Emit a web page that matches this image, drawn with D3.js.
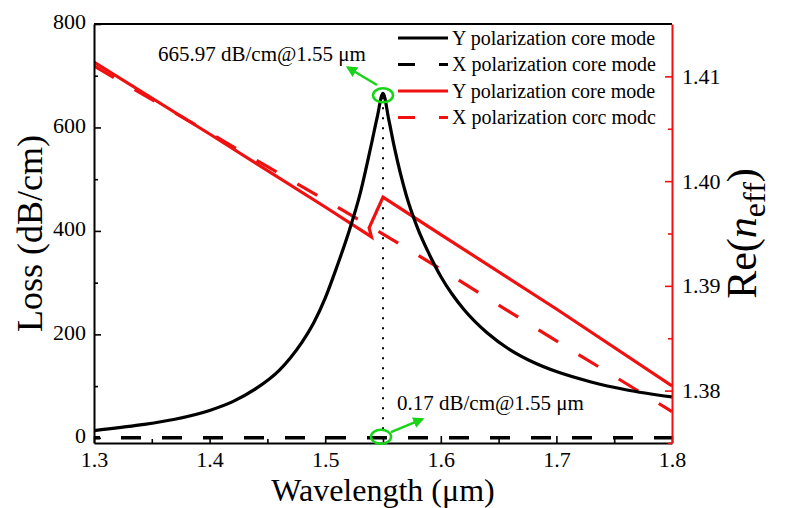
<!DOCTYPE html>
<html>
<head>
<meta charset="utf-8">
<script src="https://cdn.jsdelivr.net/npm/d3@7"></script>
<style>
  html, body { margin: 0; padding: 0; background: #fff; }
  svg { display: block; }
  svg text { font-family: "Liberation Serif", "Times New Roman", serif; }
</style>
</head>
<body>
<svg id="chart" width="788" height="508"></svg>
<script>
// Confinement loss of the two polarization core modes (left axis, dB/cm)
const lossYWavelength = [1.30, 1.34, 1.37, 1.40, 1.42, 1.44, 1.46, 1.47, 1.48, 1.49, 1.50, 1.51, 1.52, 1.53, 1.54, 1.545, 1.55,
                         1.555, 1.56, 1.57, 1.58, 1.59, 1.60, 1.61, 1.62, 1.64, 1.66, 1.68, 1.70, 1.73, 1.76, 1.80];
const lossYValues = [14, 25, 36, 53, 70, 95, 130, 155, 185, 222, 270, 330, 395, 470, 568, 620, 665.97,
                     615, 560, 470, 405, 355, 312, 277, 248, 203, 170, 146, 128, 108, 93, 79];
const lossXWavelength = [1.30, 1.40, 1.50, 1.55, 1.60, 1.70, 1.80];
const lossXValues = [0.03, 0.06, 0.12, 0.17, 0.12, 0.06, 0.04];

// Real part of the effective index (right axis)
const neffYWavelength = [1.30, 1.40, 1.50, 1.540, 1.538, 1.55, 1.60, 1.70, 1.80];
const neffYValues = [1.41137, 1.40450, 1.39753, 1.39467, 1.39553, 1.39848, 1.39490, 1.38779, 1.38044];
const neffXWavelength = [1.30, 1.40, 1.50, 1.55, 1.60, 1.70, 1.80];
const neffXValues = [1.41099, 1.40459, 1.39820, 1.39495, 1.39161, 1.38474, 1.37800];

// Axis ticks
const wavelengthTicks = [1.3, 1.4, 1.5, 1.6, 1.7, 1.8];
const wavelengthMinor = [1.35, 1.45, 1.55, 1.65, 1.75];
const lossTicks = [0, 200, 400, 600, 800];
const lossMinor = [100, 300, 500, 700];
const neffTicks = [1.38, 1.39, 1.40, 1.41];
const neffMinor = [1.375, 1.385, 1.395, 1.405];

// Legend
const legendLabels = ["Y polarization core mode", "X polarization core mode",
                      "Y polarization core mode", "X polarization corc modc"];
const legendColors = ["#000", "#000", "#f01010", "#f01010"];
const legendDashed = [false, true, false, true];

// Peak / minimum annotations
const peakWavelength = 1.55;
const peakLossY = 665.97;
const peakLossX = 0.17;

const svg = d3.select("#chart");
const plotLeft = 94, plotRight = 672, plotTop = 24, plotBottom = 443;
const serif = '"Liberation Serif", "Times New Roman", serif';

const x = d3.scaleLinear().domain([1.3, 1.8]).range([plotLeft, plotRight]);
const yL = d3.scaleLinear().domain([-10, 800]).range([plotBottom, plotTop]);
const yR = d3.scaleLinear().domain([1.375, 1.415]).range([plotBottom, plotTop]);

const red = "#f01010";
const green = "#17d417";

const defs = svg.append("defs");
defs.append("clipPath").attr("id", "plot")
  .append("rect").attr("x", plotLeft).attr("y", plotTop)
  .attr("width", plotRight - plotLeft).attr("height", plotBottom - plotTop);

defs.append("marker")
  .attr("id", "arrow").attr("viewBox", "0 0 10 10").attr("refX", 8).attr("refY", 5)
  .attr("markerWidth", 4.5).attr("markerHeight", 4.5).attr("orient", "auto")
  .attr("markerUnits", "strokeWidth")
  .append("path").attr("d", "M0,0 L10,5 L0,10 Z").attr("fill", green);

const plot = svg.append("g").attr("clip-path", "url(#plot)");

// Dotted guide at the resonance wavelength
plot.append("line")
  .attr("x1", x(peakWavelength)).attr("x2", x(peakWavelength))
  .attr("y1", yL(peakLossY) + 4).attr("y2", yL(peakLossX))
  .attr("stroke", "#000").attr("stroke-width", 2).attr("stroke-dasharray", "2,8");

const lossLine = d3.line().x(d => x(d[0])).y(d => yL(d[1])).curve(d3.curveMonotoneX);
const neffLine = d3.line().x(d => x(d[0])).y(d => yR(d[1]));

plot.append("path")
  .datum(d3.zip(neffXWavelength, neffXValues))
  .attr("d", neffLine).attr("fill", "none").attr("stroke", red)
  .attr("stroke-width", 3.2).attr("stroke-dasharray", "23,24");

plot.append("path")
  .datum(d3.zip(neffYWavelength, neffYValues))
  .attr("d", neffLine).attr("fill", "none").attr("stroke", red)
  .attr("stroke-width", 3.2).attr("stroke-linejoin", "miter");

plot.append("path")
  .datum(d3.zip(lossXWavelength, lossXValues))
  .attr("d", lossLine).attr("fill", "none").attr("stroke", "#000")
  .attr("stroke-width", 3.6).attr("stroke-dasharray", "20,21").attr("stroke-dashoffset", 14);

plot.append("path")
  .datum(d3.zip(lossYWavelength, lossYValues))
  .attr("d", lossLine).attr("fill", "none").attr("stroke", "#000")
  .attr("stroke-width", 3.2);

// Axes (ticks point inward)
function styleAxis(g, color) {
  g.attr("font-family", null).attr("font-size", null);
  g.selectAll(".domain").attr("stroke", color).attr("stroke-width", 2);
  g.selectAll(".tick line").attr("stroke", color).attr("stroke-width", 1.6);
  g.selectAll("text").attr("fill", "#000")
    .style("font-family", serif).style("font-size", "22px");
}
function minorTicks(g, color) {
  g.select(".domain").remove();
  g.selectAll("line").attr("stroke", color).attr("stroke-width", 1.6);
}

const xAxis = svg.append("g").attr("transform", `translate(0,${plotBottom})`)
  .call(d3.axisBottom(x).tickValues(wavelengthTicks).tickFormat(d3.format(".1f"))
    .tickSizeInner(-7).tickSizeOuter(0).tickPadding(8.5));
styleAxis(xAxis, "#000");
svg.append("g").attr("transform", `translate(0,${plotBottom})`)
  .call(d3.axisBottom(x).tickValues(wavelengthMinor).tickFormat("").tickSizeInner(-4).tickSizeOuter(0))
  .call(g => minorTicks(g, "#000"));

const yAxisL = svg.append("g").attr("transform", `translate(${plotLeft},0)`)
  .call(d3.axisLeft(yL).tickValues(lossTicks).tickFormat(d3.format("d"))
    .tickSizeInner(-7).tickSizeOuter(0).tickPadding(8));
styleAxis(yAxisL, "#000");
yAxisL.selectAll(".tick text").attr("dy", "0.22em");
svg.append("g").attr("transform", `translate(${plotLeft},0)`)
  .call(d3.axisLeft(yL).tickValues(lossMinor).tickFormat("").tickSizeInner(-4).tickSizeOuter(0))
  .call(g => minorTicks(g, "#000"));

// Top frame
svg.append("line").attr("x1", plotLeft).attr("x2", plotRight).attr("y1", plotTop).attr("y2", plotTop)
  .attr("stroke", "#000").attr("stroke-width", 2);

const yAxisR = svg.append("g").attr("transform", `translate(${plotRight},0)`)
  .call(d3.axisRight(yR).tickValues(neffTicks).tickFormat(d3.format(".2f"))
    .tickSizeInner(-7).tickSizeOuter(0).tickPadding(10));
styleAxis(yAxisR, red);
svg.append("g").attr("transform", `translate(${plotRight},0)`)
  .call(d3.axisRight(yR).tickValues(neffMinor).tickFormat("").tickSizeInner(-4).tickSizeOuter(0))
  .call(g => minorTicks(g, red));

// Axis titles
svg.append("text").attr("x", (plotLeft + plotRight) / 2).attr("y", 501)
  .attr("text-anchor", "middle").style("font-size", "32px").text("Wavelength (μm)");

svg.append("text").attr("transform", `translate(42,${(plotTop + plotBottom) / 2}) rotate(-90)`)
  .attr("text-anchor", "middle").style("font-size", "36px").text("Loss (dB/cm)");

const rTitle = svg.append("text").attr("transform", `translate(756,${(plotTop + plotBottom) / 2}) rotate(-90)`)
  .attr("text-anchor", "middle").style("font-size", "42px");
rTitle.append("tspan").text("Re(");
rTitle.append("tspan").style("font-style", "italic").text("n");
rTitle.append("tspan").style("font-size", "32px").attr("dy", 9).text("eff");
rTitle.append("tspan").attr("dy", -9).text(")");

// Legend
const legend = svg.append("g");
legendLabels.forEach((label, i) => {
  const cy = 38 + i * 26.5;
  legend.append("line").attr("x1", 398).attr("x2", 448).attr("y1", cy).attr("y2", cy)
    .attr("stroke", legendColors[i]).attr("stroke-width", 3.2)
    .attr("stroke-dasharray", legendDashed[i] ? "17,24" : null);
  legend.append("text").attr("x", 452).attr("y", cy + 6.5)
    .style("font-size", "20px").text(label);
});

// Annotations
const ann = svg.append("g");
ann.append("ellipse").attr("cx", x(peakWavelength)).attr("cy", yL(peakLossY) + 2)
  .attr("rx", 10).attr("ry", 7).attr("fill", "none").attr("stroke", green).attr("stroke-width", 2.5);
ann.append("line")
  .attr("x1", x(1.5448)).attr("y1", yL(682)).attr("x2", x(1.5195)).attr("y2", yL(716))
  .attr("stroke", green).attr("stroke-width", 2.5).attr("marker-end", "url(#arrow)");
ann.append("text").attr("x", x(1.4453)).attr("y", yL(728)).attr("text-anchor", "middle")
  .style("font-size", "21px").text(`${peakLossY} dB/cm@${peakWavelength} μm`);

ann.append("ellipse").attr("cx", x(peakWavelength) - 2).attr("cy", yL(peakLossX) - 1)
  .attr("rx", 10).attr("ry", 7).attr("fill", "none").attr("stroke", green).attr("stroke-width", 2.5);
ann.append("line")
  .attr("x1", x(1.5569)).attr("y1", yL(11)).attr("x2", x(1.584)).attr("y2", yL(36))
  .attr("stroke", green).attr("stroke-width", 2.5).attr("marker-end", "url(#arrow)");
ann.append("text").attr("x", x(1.5621)).attr("y", yL(54))
  .style("font-size", "21px").text(`${peakLossX} dB/cm@${peakWavelength} μm`);
</script>
</body>
</html>
